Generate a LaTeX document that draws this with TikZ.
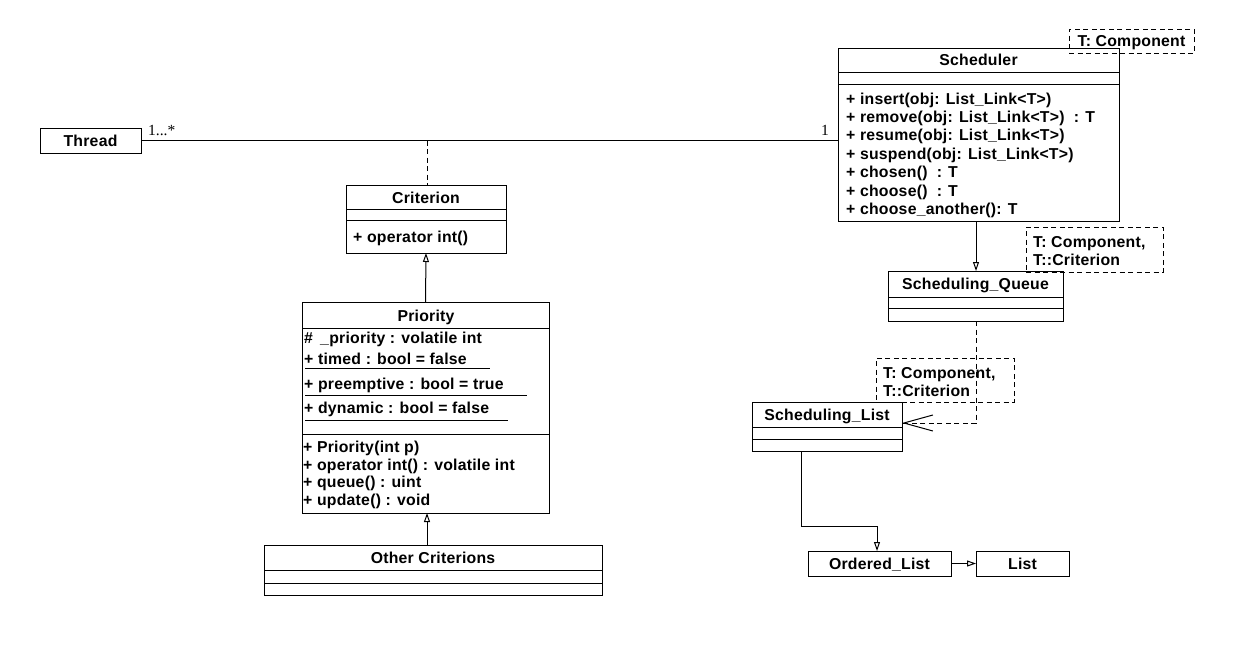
\documentclass[tikz,border=0pt]{standalone}
\usepackage{fontspec}
\setmainfont[LetterSpace=1.5]{Liberation Sans}
\newfontfamily\multfont{Liberation Serif}
\usetikzlibrary{arrows.meta}
\begin{document}
\begin{tikzpicture}[x=1pt,y=-1pt,
  cls/.style={draw, line width=1pt, inner sep=0pt, outer sep=0pt, anchor=north west},
  tmpl/.style={draw, dash pattern=on 5pt off 3.5pt, line width=1pt, inner sep=0pt, outer sep=0pt, anchor=north west},
  nm/.style={inner sep=0pt, text height=11.5pt, text depth=0pt, font=\fontsize{15.8}{18}\selectfont\bfseries},
  ln/.style={nm, anchor=west},
  sep/.style={line width=1pt},
  conn/.style={line width=1pt},
  gen/.style={conn, -{Triangle[open, length=9pt, width=6pt]}},
  dep/.style={conn, dash pattern=on 5pt off 3.5pt},
  mult/.style={inner sep=0pt, font=\fontsize{15.5}{17}\multfont}
]
\useasboundingbox (0,0) rectangle (1246,646);

% Thread
\node[cls, minimum width=101pt, minimum height=25pt] (thread) at (40,128) {};
\node[nm] (threadname) at (thread.center) {Thread};

% Scheduler
\node[cls, minimum width=281pt, minimum height=173pt] (sched) at (838,48) {};
\draw[sep] (838,72) -- (1119,72);
\draw[sep] (838,84) -- (1119,84);
\node[nm] (schedname) at (978.5,60) {Scheduler};
\node[ln] (s1) at (846,98.5) {+ insert(obj: List\_Link<T>)};
\node[ln] (s2) at (846,117) {+ remove(obj: List\_Link<T>) \ : T};
\node[ln] (s3) at (846,135) {+ resume(obj: List\_Link<T>)};
\node[ln] (s4) at (846,153.5) {+ suspend(obj: List\_Link<T>)};
\node[ln] (s5) at (846,172) {+ chosen() \ : T};
\node[ln] (s6) at (846,190.5) {+ choose() \ : T};
\node[ln] (s7) at (846,209) {+ choose\_another(): T};
\node[tmpl, minimum width=125pt, minimum height=24pt] (t1) at (1069,29) {};
\node[nm] (t1text) at (t1.center) {T: Component};

% Criterion
\node[cls, minimum width=160pt, minimum height=68pt] (crit) at (346,185) {};
\draw[sep] (346,209) -- (506,209);
\draw[sep] (346,220) -- (506,220);
\node[nm] (critname) at (426,197.5) {Criterion};
\node[ln] (c1) at (353,236.5) {+ operator int()};

% Priority
\node[cls, minimum width=247pt, minimum height=211pt] (prio) at (302,302) {};
\draw[sep] (302,328) -- (549,328);
\draw[sep] (302,434) -- (549,434);
\node[nm] (prioname) at (426,316) {Priority};
\node[ln] (p1) at (304,337.5) {\# \,\_priority : volatile int};
\node[ln] (p2) at (304,359) {+ timed : bool = false};
\draw[sep] (305,368) -- (490,368);
\node[ln] (p3) at (304,384) {+ preemptive : bool = true};
\draw[sep] (305,395) -- (527,395);
\node[ln] (p4) at (304,408) {+ dynamic : bool = false};
\draw[sep] (305,420) -- (508,420);
\node[ln] (m1) at (303,447) {+ Priority(int p)};
\node[ln] (m2) at (303,464.5) {+ operator int() : volatile int};
\node[ln] (m3) at (303,482) {+ queue() : uint};
\node[ln] (m4) at (303,499.5) {+ update() : void};

% Other Criterions
\node[cls, minimum width=338pt, minimum height=50pt] (other) at (264,545) {};
\draw[sep] (264,570) -- (602,570);
\draw[sep] (264,583) -- (602,583);
\node[nm] (othername) at (433,557.5) {Other Criterions};

% Scheduling_Queue
\node[cls, minimum width=175pt, minimum height=50pt] (queue) at (888,271) {};
\draw[sep] (888,297) -- (1063,297);
\draw[sep] (888,308) -- (1063,308);
\node[nm] (queuename) at (975.5,284) {Scheduling\_Queue};
\node[tmpl, minimum width=137pt, minimum height=45pt] (t2) at (1026,227) {};
\node[ln] (t2a) at (1033,241.5) {T: Component,};
\node[ln] (t2b) at (1033,259.5) {T::Criterion};

% Scheduling_List
\node[cls, minimum width=150pt, minimum height=49pt] (slist) at (752,402) {};
\draw[sep] (752,427) -- (902,427);
\draw[sep] (752,439) -- (902,439);
\node[nm] (slistname) at (827,414.5) {Scheduling\_List};
\node[tmpl, minimum width=138pt, minimum height=44pt] (t3) at (876,358) {};
\node[ln] (t3a) at (883,372.5) {T: Component,};
\node[ln] (t3b) at (883,390.5) {T::Criterion};

% Ordered_List and List
\node[cls, minimum width=143pt, minimum height=25pt] (olist) at (808,551) {};
\node[nm] (olistname) at (olist.center) {Ordered\_List};
\node[cls, minimum width=93pt, minimum height=25pt] (list) at (976,551) {};
\node[nm] (listname) at (list.center) {List};

% Connectors
\draw[conn] (thread.east) -- (thread.east -| sched.west);
\coordinate (assocmid) at (427,140.5);
\draw[dep] (assocmid) -- (assocmid |- crit.north);
\node[mult, anchor=base west] (m1lab) at (148,135) {1...*};
\node[mult, anchor=base east] (m2lab) at (829,135) {1};

\draw[gen] (prio.north) -- (crit.south);
\coordinate (otherTop) at (427,545);
\draw[gen] (otherTop) -- (otherTop |- prio.south);

\coordinate (schedBot) at (976,221);
\draw[gen] (schedBot) -- (schedBot |- queue.north);

\coordinate (queueBot) at (976,321);
\coordinate (depCorner) at (976,423);
\draw[dep] (queueBot) -- (depCorner) -- (depCorner -| slist.east);
\draw[conn, -{Straight Barb[length=29pt, width=16pt]}] ([xshift=2pt]depCorner -| slist.east) -- (depCorner -| slist.east);

\coordinate (slistBot) at (801,451);
\coordinate (bend1) at (801,526);
\coordinate (bend2) at (877,526);
\draw[gen] (slistBot) -- (bend1) -- (bend2) -- (bend2 |- olist.north);

\draw[gen] (olist.east) -- (list.west);
\end{tikzpicture}
\end{document}
